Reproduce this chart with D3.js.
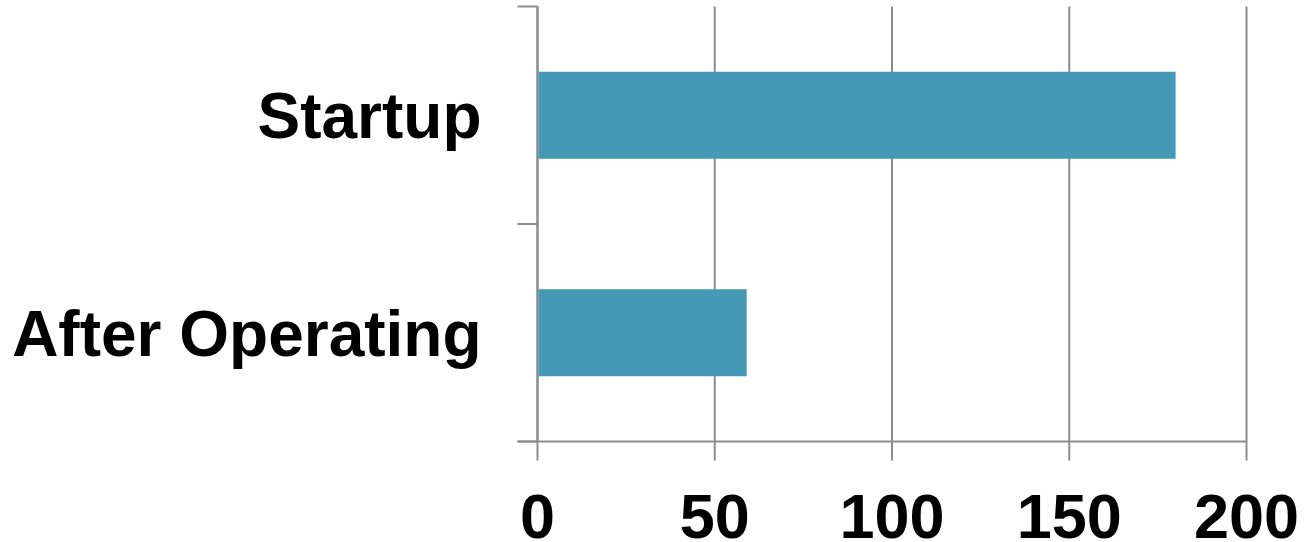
<!DOCTYPE html>
<html>
<head>
<meta charset="utf-8">
<script src="https://cdn.jsdelivr.net/npm/d3@7"></script>
<style>
  html, body { margin: 0; padding: 0; background: #fff; }
  svg text { font-family: "Liberation Sans", Arial, sans-serif; font-weight: bold; fill: #000; }
</style>
</head>
<body>
<div id="chart"></div>
<script>
// data
const categories = ['Startup', 'After Operating'];
const values = [180, 59];
const xTicks = [0, 50, 100, 150, 200];

const width = 1306, height = 542;
const margin = {top: 6.5, right: 59.5, bottom: 100.5, left: 537.5};
const innerW = width - margin.left - margin.right;
const innerH = height - margin.top - margin.bottom;
const gridColor = '#8c8c8c';

const svg = d3.select('#chart').append('svg')
  .attr('width', width)
  .attr('height', height)
  .append('g')
  .attr('transform', 'translate(' + margin.left + ',' + margin.top + ')');

const x = d3.scaleLinear().domain([0, 200]).range([0, innerW]);
const y = d3.scaleBand().domain(categories).range([0, innerH])
  .paddingInner(0.6).paddingOuter(0.3);

// vertical gridlines + bottom ticks
svg.append('g')
  .selectAll('line')
  .data(xTicks)
  .enter().append('line')
  .attr('x1', d => x(d)).attr('x2', d => x(d))
  .attr('y1', 0).attr('y2', innerH + 19)
  .attr('stroke', gridColor)
  .attr('stroke-width', 2);

// category boundaries (left ticks)
const step = y.step();
const bounds = [0];
categories.slice(0, -1).forEach(c => bounds.push(y(c) + y.bandwidth() + step * y.paddingInner() / 2));
bounds.push(innerH);
svg.append('g')
  .selectAll('line')
  .data(bounds)
  .enter().append('line')
  .attr('x1', -20).attr('x2', 0)
  .attr('y1', d => d).attr('y2', d => d)
  .attr('stroke', gridColor)
  .attr('stroke-width', 2);

// axis lines
svg.append('line')
  .attr('x1', 0).attr('x2', 0).attr('y1', 0).attr('y2', innerH)
  .attr('stroke', gridColor).attr('stroke-width', 2);
svg.append('line')
  .attr('x1', -20).attr('x2', innerW).attr('y1', innerH).attr('y2', innerH)
  .attr('stroke', gridColor).attr('stroke-width', 2);

// bars
svg.selectAll('.bar')
  .data(categories)
  .enter().append('rect')
  .attr('class', 'bar')
  .attr('x', 1)
  .attr('y', d => y(d))
  .attr('width', (d, i) => x(values[i]) - 1)
  .attr('height', y.bandwidth())
  .attr('fill', '#4599b5');

// category labels
svg.selectAll('.cat-label')
  .data(categories)
  .enter().append('text')
  .attr('class', 'cat-label')
  .attr('x', -56)
  .attr('y', d => y(d) + y.bandwidth() / 2)
  .attr('dy', '0.36em')
  .attr('text-anchor', 'end')
  .style('font-size', '64px')
  .text(d => d);

// x tick labels
svg.selectAll('.x-label')
  .data(xTicks)
  .enter().append('text')
  .attr('class', 'x-label')
  .attr('x', d => x(d))
  .attr('y', innerH + 96)
  .attr('text-anchor', 'middle')
  .style('font-size', '63px')
  .text(d => d);
</script>
</body>
</html>
